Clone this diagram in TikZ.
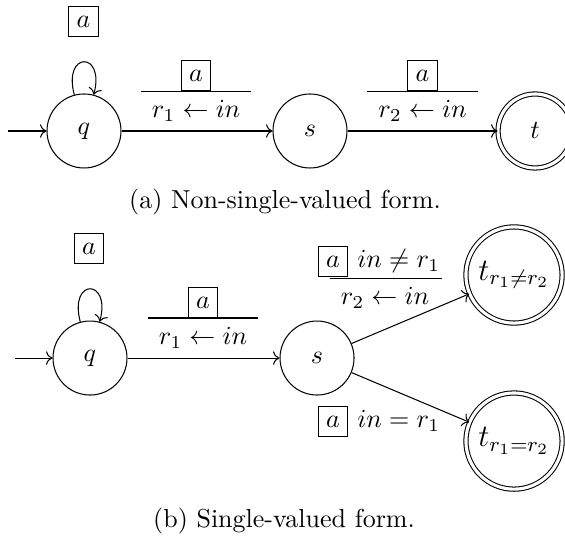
\documentclass[tikz,border=0pt]{standalone}
\usepackage{amsmath,amssymb}
\usetikzlibrary{positioning, arrows.meta}

\begin{document}
\begin{tikzpicture}[
  >=To,
  loc/.style={draw, circle, minimum size=1.0cm, inner sep=0pt},
  fin/.style={loc, double, double distance=1.2pt},
  bigfin/.style={fin, minimum size=1.3cm, font=\large},
  sym/.style={draw, inner xsep=3pt, inner ysep=3.6pt},
  arr/.style={->},
]
\useasboundingbox (0,0) rectangle (7.635,-7.270);

%% (a) — states
\node[loc] (q1) at (1.135,-1.770) {$q$};
\node[loc] (s1) at (4.189,-1.770) {$s$};
\node[fin] (t1) at (7.230,-1.770) {$t$};
\coordinate (in1) at (0.108,-1.770);

%% (a) — transitions
\draw[arr] (in1) -- (q1);
\draw[arr] (q1) to[out=105, in=75, looseness=6] (q1);
\draw[arr] (q1) -- (s1);
\draw[arr] (s1) -- (t1);

%% (a) — loop label
\node[sym] (ga0) at (1.128,-0.291) {$a$};

%% (a) — label q -> s
\coordinate (ra1l) at (1.905,-1.230);
\coordinate (ra1r) at (3.392,-1.230);
\draw (ra1l) -- (ra1r);
\node[sym, anchor=south] (ga1) at (2.650,-1.230) {$a$};
\node[anchor=north] (ua1) at (2.650,-1.230) {$r_1 \leftarrow in$};

%% (a) — label s -> t
\coordinate (ra2l) at (4.959,-1.230);
\coordinate (ra2r) at (6.459,-1.230);
\draw (ra2l) -- (ra2r);
\node[sym, anchor=south] (ga2) at (5.709,-1.230) {$a$};
\node[anchor=north] (ua2) at (5.709,-1.230) {$r_2 \leftarrow in$};

\node (capa) at (3.851,-2.730) {(a) Non-single-valued form.};

%% (b) — states
\node[loc] (q2) at (1.216,-4.838) {$q$};
\node[loc] (s2) at (4.284,-4.838) {$s$};
\node[bigfin] (tne) at (6.946,-3.716) {$t_{r_1\neq r_2}$};
\node[bigfin] (teq) at (6.946,-5.960) {$t_{r_1=r_2}$};
\coordinate (in2) at (0.203,-4.838);

%% (b) — transitions
\draw[arr] (in2) -- (q2);
\draw[arr] (q2) to[out=105, in=75, looseness=6] (q2);
\draw[arr] (q2) -- (s2);
\draw[arr] (s2) -- (tne);
\draw[arr] (s2) -- (teq);

%% (b) — loop label
\node[sym] (gb0) at (1.203,-3.358) {$a$};

%% (b) — label q -> s
\coordinate (rb1l) at (2.000,-4.297);
\coordinate (rb1r) at (3.486,-4.297);
\draw (rb1l) -- (rb1r);
\node[sym, anchor=south] (gb1) at (2.743,-4.297) {$a$};
\node[anchor=north] (ub1) at (2.743,-4.297) {$r_1 \leftarrow in$};

%% (b) — label s -> t_{r1 != r2}
\coordinate (rb2l) at (4.459,-3.757);
\coordinate (rb2r) at (5.973,-3.757);
\draw (rb2l) -- (rb2r);
\node[sym, anchor=south] (gb2) at (4.500,-3.745) {$a$};
\node[anchor=base west] (cb2) at (gb2.base east) {$in \neq r_1$};
\node[anchor=north] (ub2) at (5.203,-3.757) {$r_2 \leftarrow in$};

%% (b) — label s -> t_{r1 = r2}
\node[sym, anchor=south] (gb3) at (4.500,-5.905) {$a$};
\node[anchor=base west] (cb3) at (gb3.base east) {$in = r_1$};

\node (capb) at (3.838,-7.041) {(b) Single-valued form.};

\end{tikzpicture}
\end{document}
